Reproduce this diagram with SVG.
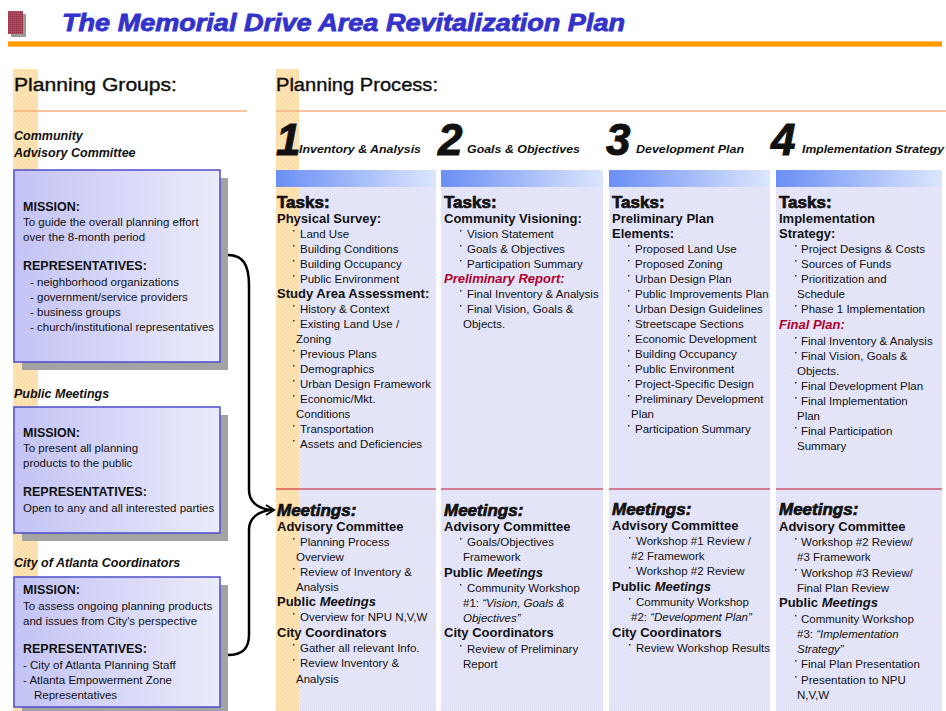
<svg xmlns="http://www.w3.org/2000/svg" width="946" height="711" viewBox="0 0 946 711">
<defs>
<style>
text{font-family:"Liberation Sans",Arial,sans-serif;fill:#111}
.t{font-size:11.5px}
.h{font-size:13px;font-weight:bold}
.k{font-size:17px;font-weight:bold;stroke:#111;stroke-width:0.7}
.ki{font-size:17px;font-weight:bold;font-style:italic;stroke:#111;stroke-width:0.7}
.r{font-size:13px;font-weight:bold;font-style:italic;fill:#b0002a}
.g{font-size:12.5px;font-weight:bold;font-style:italic}
.bh{font-size:12.5px;font-weight:bold}
.num{font-size:44px;font-weight:bold;font-style:italic;stroke:#111;stroke-width:1}
.sub{font-size:11px;font-weight:bold;font-style:italic}
.i{font-style:italic}
.sec{font-size:19px;stroke:#111;stroke-width:0.4}
.box{fill:url(#boxg);stroke:#4d4dcc;stroke-width:1.5}
.shadow{fill:#a3a3a3}
.body{fill:url(#hatch)}
.bar{fill:url(#barg)}
.band{fill:url(#oband)}
.sep{stroke:#c8102e;stroke-width:1}
.rule{stroke:#f7b07c;stroke-width:1.5}
.b{fill:#333}
</style>
<linearGradient id="boxg" x1="0" y1="0" x2="1" y2="0">
<stop offset="0" stop-color="#c3c3f5"/><stop offset="1" stop-color="#ebebfc"/>
</linearGradient>
<linearGradient id="barg" x1="0" y1="0" x2="1" y2="0">
<stop offset="0" stop-color="#6a8ff5"/><stop offset="1" stop-color="#dce6fd"/>
</linearGradient>
<pattern id="hatch" width="4" height="4" patternUnits="userSpaceOnUse">
<rect width="4" height="4" fill="#e6e6fa"/><rect width="1" height="1" fill="#d7d7f0"/><rect x="2" y="2" width="1" height="1" fill="#d7d7f0"/>
</pattern>
<pattern id="oband" width="4" height="4" patternUnits="userSpaceOnUse">
<rect width="4" height="4" fill="#fde2b4"/><rect width="1" height="1" fill="#f8d49a"/><rect x="2" y="2" width="1" height="1" fill="#f8d49a"/>
</pattern>
<pattern id="iconp" width="2" height="2" patternUnits="userSpaceOnUse">
<rect width="2" height="2" fill="#b04a5e"/><rect width="1" height="1" fill="#8c2f44"/>
</pattern>
</defs>
<rect width="946" height="711" fill="#fff"/>

<g id="header">
<rect x="11" y="14" width="15" height="23" fill="#9a9a9a"/>
<rect x="8" y="11" width="15" height="23" fill="url(#iconp)"/>
<text x="62" y="31" font-size="23" font-weight="bold" font-style="italic" style="fill:#3333cc;stroke:#3333cc;stroke-width:0.8" textLength="563" lengthAdjust="spacingAndGlyphs">The Memorial Drive Area Revitalization Plan</text>
<rect x="8" y="41" width="934" height="6" fill="#ff9900"/>
<rect x="8" y="41" width="934" height="1" fill="#ffc060"/>
<rect x="8" y="46" width="934" height="1" fill="#ffc060"/>
</g>

<g id="bands">
<rect class="band" x="13" y="69" width="25" height="642"/>
<rect class="band" x="276" y="69" width="23" height="642"/>
</g>

<g id="section-headings">
<text class="sec" x="14" y="91" textLength="163" lengthAdjust="spacingAndGlyphs">Planning Groups:</text>
<line class="rule" x1="14" y1="111" x2="247" y2="111"/>
<text class="sec" x="276" y="91" textLength="162" lengthAdjust="spacingAndGlyphs">Planning Process:</text>
<line class="rule" x1="276" y1="111" x2="946" y2="111"/>
</g>

<g id="group-cac">
<text class="g" x="14" y="140">Community</text>
<text class="g" x="14" y="157">Advisory Committee</text>
<rect class="shadow" x="22" y="178" width="206" height="192"/>
<rect class="box" x="14" y="170" width="206" height="192"/>
<text class="bh" x="23" y="211">MISSION:</text>
<text class="t" x="23" y="226">To guide the overall planning effort</text>
<text class="t" x="23" y="241">over the 8-month period</text>
<text class="bh" x="23" y="270">REPRESENTATIVES:</text>
<text class="t" x="30" y="286">- neighborhood organizations</text>
<text class="t" x="30" y="301">- government/service providers</text>
<text class="t" x="30" y="316">- business groups</text>
<text class="t" x="30" y="331">- church/institutional representatives</text>
</g>

<g id="group-public">
<text class="g" x="14" y="398">Public Meetings</text>
<rect class="shadow" x="22" y="415" width="206" height="126"/>
<rect class="box" x="14" y="407" width="206" height="126"/>
<text class="bh" x="23" y="437">MISSION:</text>
<text class="t" x="23" y="452">To present all planning</text>
<text class="t" x="23" y="467">products to the public</text>
<text class="bh" x="23" y="496">REPRESENTATIVES:</text>
<text class="t" x="23" y="512">Open to any and all interested parties</text>
</g>

<g id="group-city">
<text class="g" x="14" y="567">City of Atlanta Coordinators</text>
<rect class="shadow" x="22" y="585" width="206" height="130"/>
<rect class="box" x="14" y="577" width="206" height="130"/>
<text class="bh" x="23" y="594">MISSION:</text>
<text class="t" x="23" y="610">To assess ongoing planning products</text>
<text class="t" x="23" y="625">and issues from City's perspective</text>
<text class="bh" x="23" y="653">REPRESENTATIVES:</text>
<text class="t" x="23" y="669">- City of Atlanta Planning Staff</text>
<text class="t" x="23" y="684">- Atlanta Empowerment Zone</text>
<text class="t" x="34" y="699">Representatives</text>
</g>

<g id="connectors" fill="none" stroke="#000" stroke-width="2.5">
<path d="M228 255 C243 255 249 265 249 285 L249 490 C249 502 258 509 272 510"/>
<path d="M272 510 C258 511 249 518 249 530 L249 635 C249 648 243 655 228 655"/>
<path d="M266 505 L274 510 L266 515" stroke-width="2"/>
</g>

<g id="col1">
<rect class="body" x="276" y="186" width="160" height="525"/>
<rect class="band" x="276" y="186" width="23" height="525"/>
<rect class="bar" x="276" y="170" width="160" height="17"/>
<line class="sep" x1="276" y1="489" x2="436" y2="489"/>
<text class="num" x="276" y="155">1</text>
<text class="sub" x="299" y="153" textLength="122" lengthAdjust="spacingAndGlyphs">Inventory &amp; Analysis</text>
<text class="k" x="277" y="208">Tasks:</text>
<text class="h" x="277" y="223">Physical Survey:</text>
<text class="t" x="300" y="238">Land Use</text>
<text class="t" x="300" y="253">Building Conditions</text>
<text class="t" x="300" y="268">Building Occupancy</text>
<text class="t" x="300" y="283">Public Environment</text>
<text class="h" x="277" y="298">Study Area Assessment:</text>
<text class="t" x="300" y="313">History &amp; Context</text>
<text class="t" x="300" y="328">Existing Land Use /</text>
<text class="t" x="296" y="343">Zoning</text>
<text class="t" x="300" y="358">Previous Plans</text>
<text class="t" x="300" y="373">Demographics</text>
<text class="t" x="300" y="388">Urban Design Framework</text>
<text class="t" x="300" y="403">Economic/Mkt.</text>
<text class="t" x="296" y="418">Conditions</text>
<text class="t" x="300" y="433">Transportation</text>
<text class="t" x="300" y="448">Assets and Deficiencies</text>
<g class="b">
<rect x="293" y="230" width="1.5" height="1.5"/><rect x="293" y="245" width="1.5" height="1.5"/><rect x="293" y="260" width="1.5" height="1.5"/><rect x="293" y="275" width="1.5" height="1.5"/>
<rect x="293" y="305" width="1.5" height="1.5"/><rect x="293" y="320" width="1.5" height="1.5"/><rect x="293" y="350" width="1.5" height="1.5"/><rect x="293" y="365" width="1.5" height="1.5"/><rect x="293" y="380" width="1.5" height="1.5"/><rect x="293" y="395" width="1.5" height="1.5"/><rect x="293" y="425" width="1.5" height="1.5"/><rect x="293" y="440" width="1.5" height="1.5"/>
</g>
<text class="ki" x="277" y="516">Meetings:</text>
<text class="h" x="277" y="531">Advisory Committee</text>
<text class="t" x="300" y="546">Planning Process</text>
<text class="t" x="296" y="561">Overview</text>
<text class="t" x="300" y="576">Review of Inventory &amp;</text>
<text class="t" x="296" y="591">Analysis</text>
<text class="h" x="277" y="606">Public <tspan class="i">Meetings</tspan></text>
<text class="t" x="300" y="621">Overview for NPU N,V,W</text>
<text class="h" x="277" y="637">City Coordinators</text>
<text class="t" x="300" y="652">Gather all relevant Info.</text>
<text class="t" x="300" y="667">Review Inventory &amp;</text>
<text class="t" x="296" y="683">Analysis</text>
<g class="b">
<rect x="293" y="538" width="1.5" height="1.5"/><rect x="293" y="568" width="1.5" height="1.5"/><rect x="293" y="613" width="1.5" height="1.5"/><rect x="293" y="644" width="1.5" height="1.5"/><rect x="293" y="659" width="1.5" height="1.5"/>
</g>
</g>

<g id="col2">
<rect class="body" x="441" y="186" width="162" height="525"/>
<rect class="bar" x="441" y="170" width="162" height="17"/>
<line class="sep" x1="441" y1="489" x2="603" y2="489"/>
<text class="num" x="438" y="155">2</text>
<text class="sub" x="467" y="153" textLength="113" lengthAdjust="spacingAndGlyphs">Goals &amp; Objectives</text>
<text class="k" x="444" y="208">Tasks:</text>
<text class="h" x="444" y="223">Community Visioning:</text>
<text class="t" x="467" y="238">Vision Statement</text>
<text class="t" x="467" y="253">Goals &amp; Objectives</text>
<text class="t" x="467" y="268">Participation Summary</text>
<text class="r" x="444" y="283">Preliminary Report:</text>
<text class="t" x="467" y="298">Final Inventory &amp; Analysis</text>
<text class="t" x="467" y="313">Final Vision, Goals &amp;</text>
<text class="t" x="463" y="328">Objects.</text>
<g class="b">
<rect x="460" y="230" width="1.5" height="1.5"/><rect x="460" y="245" width="1.5" height="1.5"/><rect x="460" y="260" width="1.5" height="1.5"/><rect x="460" y="290" width="1.5" height="1.5"/><rect x="460" y="305" width="1.5" height="1.5"/>
</g>
<text class="ki" x="444" y="516">Meetings:</text>
<text class="h" x="444" y="531">Advisory Committee</text>
<text class="t" x="467" y="546">Goals/Objectives</text>
<text class="t" x="463" y="561">Framework</text>
<text class="h" x="444" y="577">Public <tspan class="i">Meetings</tspan></text>
<text class="t" x="467" y="592">Community Workshop</text>
<text class="t" x="463" y="607">#1: <tspan class="i">“Vision, Goals &amp;</tspan></text>
<text class="t" x="463" y="622"><tspan class="i">Objectives”</tspan></text>
<text class="h" x="444" y="637">City Coordinators</text>
<text class="t" x="467" y="653">Review of Preliminary</text>
<text class="t" x="463" y="668">Report</text>
<g class="b">
<rect x="460" y="538" width="1.5" height="1.5"/><rect x="460" y="584" width="1.5" height="1.5"/><rect x="460" y="645" width="1.5" height="1.5"/>
</g>
</g>

<g id="col3">
<rect class="body" x="609" y="186" width="161" height="525"/>
<rect class="bar" x="609" y="170" width="161" height="17"/>
<line class="sep" x1="609" y1="489" x2="770" y2="489"/>
<text class="num" x="606" y="155">3</text>
<text class="sub" x="636" y="153" textLength="108" lengthAdjust="spacingAndGlyphs">Development Plan</text>
<text class="k" x="612" y="208">Tasks:</text>
<text class="h" x="612" y="223">Preliminary Plan</text>
<text class="h" x="612" y="238">Elements:</text>
<text class="t" x="635" y="253">Proposed Land Use</text>
<text class="t" x="635" y="268">Proposed Zoning</text>
<text class="t" x="635" y="283">Urban Design Plan</text>
<text class="t" x="635" y="298">Public Improvements Plan</text>
<text class="t" x="635" y="313">Urban Design Guidelines</text>
<text class="t" x="635" y="328">Streetscape Sections</text>
<text class="t" x="635" y="343">Economic Development</text>
<text class="t" x="635" y="358">Building Occupancy</text>
<text class="t" x="635" y="373">Public Environment</text>
<text class="t" x="635" y="388">Project-Specific Design</text>
<text class="t" x="635" y="403">Preliminary Development</text>
<text class="t" x="631" y="418">Plan</text>
<text class="t" x="635" y="433">Participation Summary</text>
<g class="b">
<rect x="628" y="245" width="1.5" height="1.5"/><rect x="628" y="260" width="1.5" height="1.5"/><rect x="628" y="275" width="1.5" height="1.5"/><rect x="628" y="290" width="1.5" height="1.5"/><rect x="628" y="305" width="1.5" height="1.5"/><rect x="628" y="320" width="1.5" height="1.5"/><rect x="628" y="335" width="1.5" height="1.5"/><rect x="628" y="350" width="1.5" height="1.5"/><rect x="628" y="365" width="1.5" height="1.5"/><rect x="628" y="380" width="1.5" height="1.5"/><rect x="628" y="395" width="1.5" height="1.5"/><rect x="628" y="425" width="1.5" height="1.5"/>
</g>
<text class="ki" x="612" y="515">Meetings:</text>
<text class="h" x="612" y="530">Advisory Committee</text>
<text class="t" x="636" y="545">Workshop #1 Review /</text>
<text class="t" x="631" y="560">#2 Framework</text>
<text class="t" x="636" y="575">Workshop #2 Review</text>
<text class="h" x="612" y="591">Public <tspan class="i">Meetings</tspan></text>
<text class="t" x="636" y="606">Community Workshop</text>
<text class="t" x="631" y="621">#2: <tspan class="i">“Development Plan”</tspan></text>
<text class="h" x="612" y="637">City Coordinators</text>
<text class="t" x="636" y="652">Review Workshop Results</text>
<g class="b">
<rect x="629" y="537" width="1.5" height="1.5"/><rect x="629" y="567" width="1.5" height="1.5"/><rect x="629" y="598" width="1.5" height="1.5"/><rect x="629" y="644" width="1.5" height="1.5"/>
</g>
</g>

<g id="col4">
<rect class="body" x="776" y="186" width="166" height="525"/>
<rect class="bar" x="776" y="170" width="166" height="17"/>
<line class="sep" x1="776" y1="489" x2="942" y2="489"/>
<text class="num" x="771" y="155">4</text>
<text class="sub" x="802" y="153" textLength="142" lengthAdjust="spacingAndGlyphs">Implementation Strategy</text>
<text class="k" x="779" y="208">Tasks:</text>
<text class="h" x="779" y="223">Implementation</text>
<text class="h" x="779" y="238">Strategy:</text>
<text class="t" x="801" y="253">Project Designs &amp; Costs</text>
<text class="t" x="801" y="268">Sources of Funds</text>
<text class="t" x="801" y="283">Prioritization and</text>
<text class="t" x="797" y="298">Schedule</text>
<text class="t" x="801" y="313">Phase 1 Implementation</text>
<text class="r" x="779" y="329">Final Plan:</text>
<text class="t" x="801" y="345">Final Inventory &amp; Analysis</text>
<text class="t" x="801" y="360">Final Vision, Goals &amp;</text>
<text class="t" x="797" y="375">Objects.</text>
<text class="t" x="801" y="390">Final Development Plan</text>
<text class="t" x="801" y="405">Final Implementation</text>
<text class="t" x="797" y="420">Plan</text>
<text class="t" x="801" y="435">Final Participation</text>
<text class="t" x="797" y="450">Summary</text>
<g class="b">
<rect x="795" y="245" width="1.5" height="1.5"/><rect x="795" y="260" width="1.5" height="1.5"/><rect x="795" y="275" width="1.5" height="1.5"/><rect x="795" y="305" width="1.5" height="1.5"/><rect x="795" y="337" width="1.5" height="1.5"/><rect x="795" y="352" width="1.5" height="1.5"/><rect x="795" y="382" width="1.5" height="1.5"/><rect x="795" y="397" width="1.5" height="1.5"/><rect x="795" y="427" width="1.5" height="1.5"/>
</g>
<text class="ki" x="779" y="515">Meetings:</text>
<text class="h" x="779" y="531">Advisory Committee</text>
<text class="t" x="801" y="546">Workshop #2 Review/</text>
<text class="t" x="797" y="561">#3 Framework</text>
<text class="t" x="801" y="577">Workshop #3 Review/</text>
<text class="t" x="797" y="592">Final Plan Review</text>
<text class="h" x="779" y="607">Public <tspan class="i">Meetings</tspan></text>
<text class="t" x="801" y="623">Community Workshop</text>
<text class="t" x="797" y="638">#3: <tspan class="i">“Implementation</tspan></text>
<text class="t" x="797" y="653"><tspan class="i">Strategy”</tspan></text>
<text class="t" x="801" y="668">Final Plan Presentation</text>
<text class="t" x="801" y="684">Presentation to NPU</text>
<text class="t" x="797" y="699">N,V,W</text>
<g class="b">
<rect x="795" y="538" width="1.5" height="1.5"/><rect x="795" y="569" width="1.5" height="1.5"/><rect x="795" y="615" width="1.5" height="1.5"/><rect x="795" y="660" width="1.5" height="1.5"/><rect x="795" y="676" width="1.5" height="1.5"/>
</g>
</g>
</svg>
